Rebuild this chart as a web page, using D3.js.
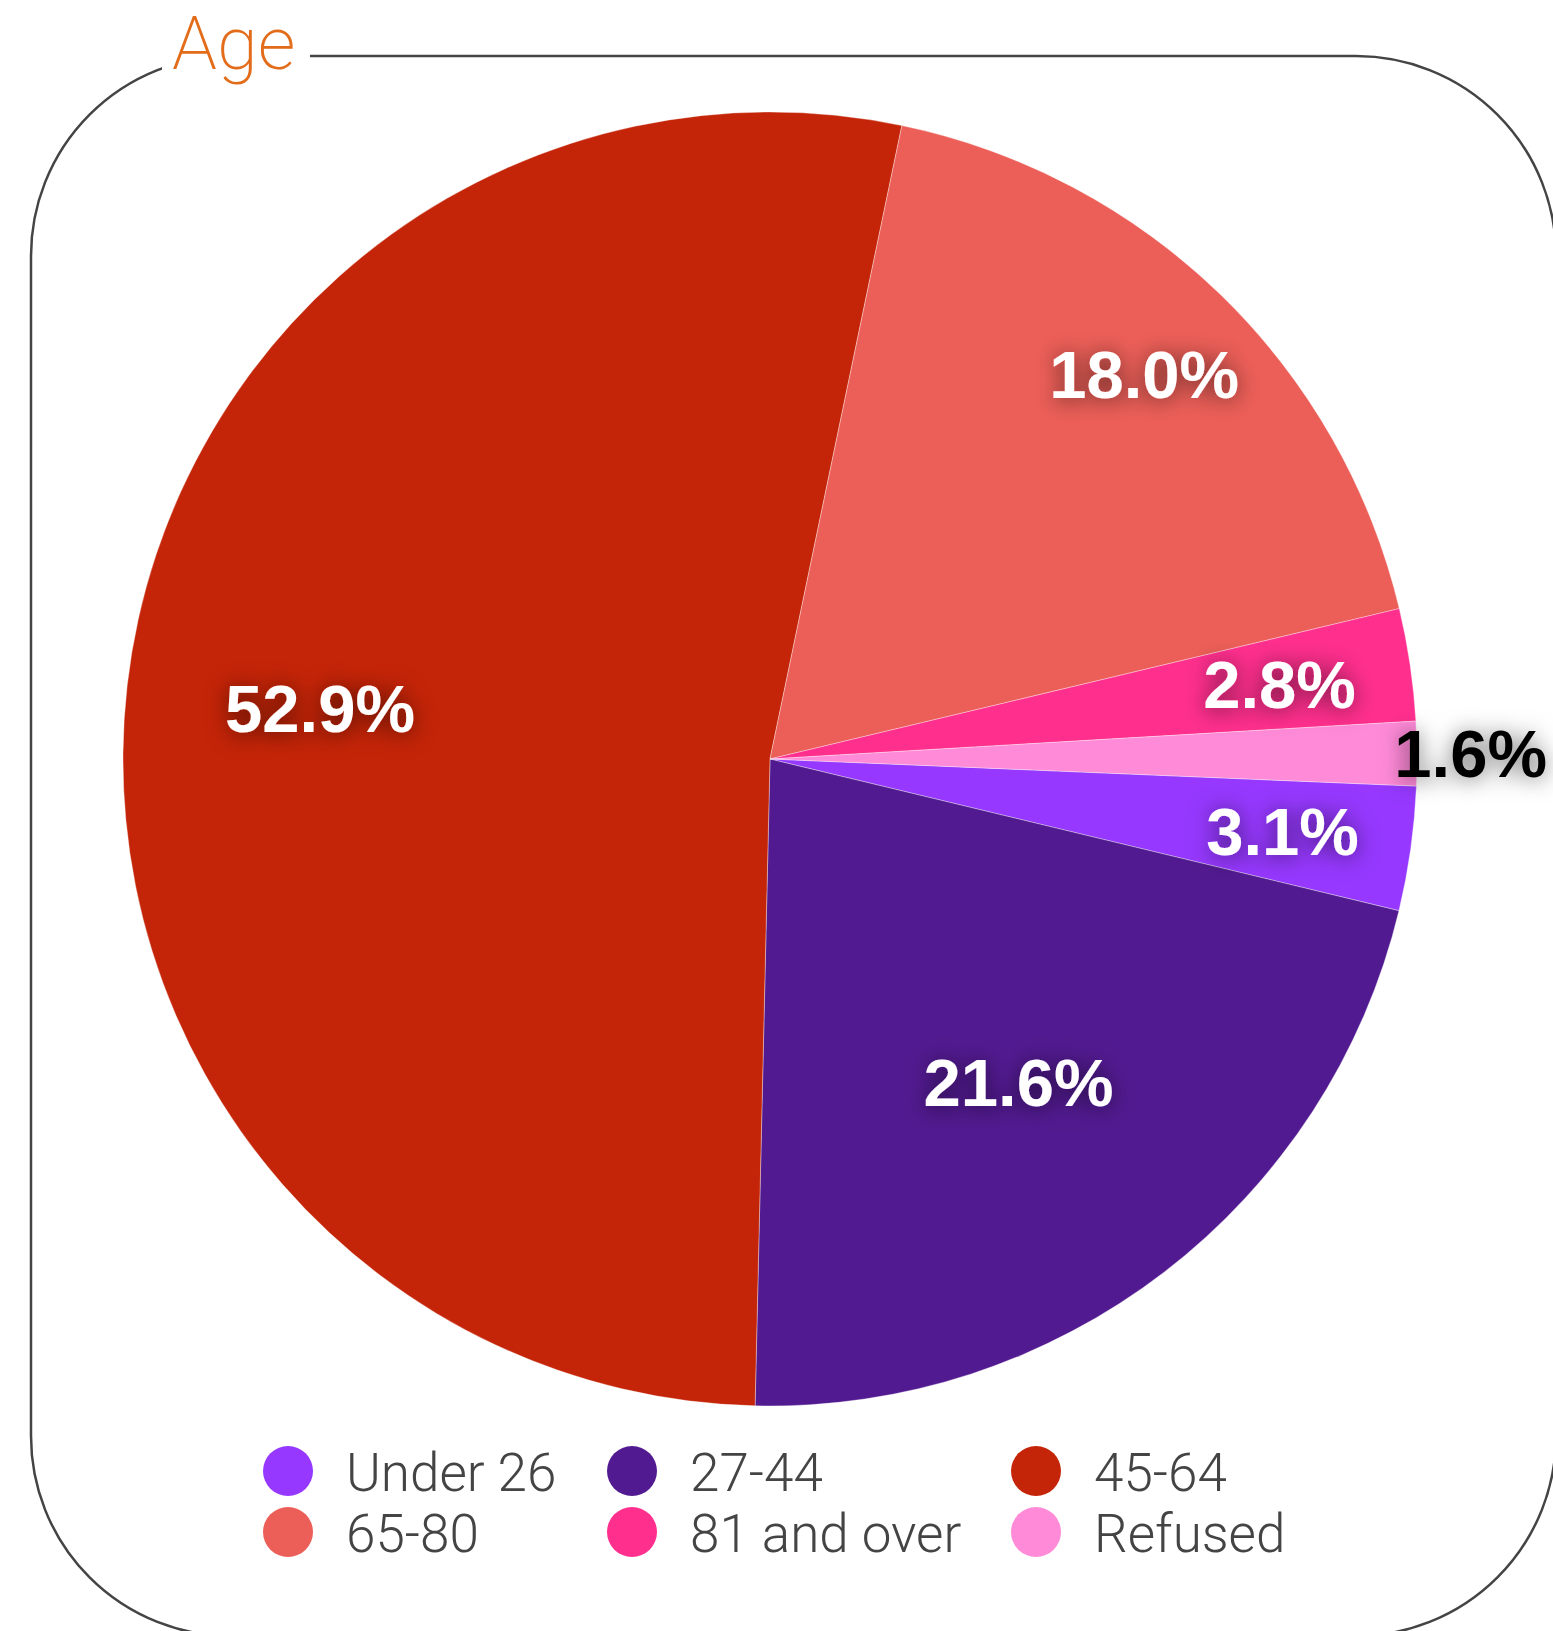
<!DOCTYPE html>
<html>
<head>
<meta charset="utf-8">
<script src="https://cdn.jsdelivr.net/npm/d3@7"></script>
<style>
  html, body { margin: 0; padding: 0; background: #fff; overflow: hidden; }
</style>
</head>
<body>
<div id="chart"></div>
<script>
// data
var categories = ["Under 26", "27-44", "45-64", "65-80", "81 and over", "Refused"];
var values = [3.1, 21.6, 52.9, 18.0, 2.8, 1.6];
var colors = ["#9638FF", "#521A90", "#C42407", "#EC5F58", "#FF2F8E", "#FF8AD8"];
var labelText = ["3.1%", "21.6%", "52.9%", "18.0%", "2.8%", "1.6%"];

// where each label sits, as a fraction of the radius
var labelR = [0.80, 0.63, 0.70, 0.83, 0.796, 1.083];

var width = 1553,
    height = 1631;

var svg = d3.select("#chart")
  .append("svg")
    .attr("width", width)
    .attr("height", height);

// shadow behind the labels
var defs = svg.append("defs");
var f = defs.append("filter")
    .attr("id", "glow")
    .attr("x", "-30%").attr("y", "-70%")
    .attr("width", "160%").attr("height", "240%");
f.append("feDropShadow")
    .attr("dx", 0).attr("dy", 2)
    .attr("stdDeviation", 11)
    .attr("flood-color", "#000")
    .attr("flood-opacity", 0.6);

// rounded frame
svg.append("rect")
    .attr("x", 31)
    .attr("y", 56)
    .attr("width", 1525)
    .attr("height", 1580)
    .attr("rx", 200)
    .attr("ry", 200)
    .attr("fill", "none")
    .attr("stroke", "#444")
    .attr("stroke-width", 2.5);

// gap for the title
svg.append("rect")
    .attr("x", 162)
    .attr("y", 0)
    .attr("width", 148)
    .attr("height", 90)
    .attr("fill", "#fff");

svg.append("text")
    .attr("x", 172)
    .attr("y", 69)
    .attr("font-family", "Roboto, 'Open Sans', sans-serif")
    .attr("font-weight", 200)
    .attr("font-size", 74)
    .attr("fill", "#E36C1A")
    .text("Age");

// pie
var cx = 770, cy = 759, radius = 647;
var start = 92.4 * Math.PI / 180;

var pie = d3.pie()
    .sort(null)
    .startAngle(start)
    .endAngle(start + 2 * Math.PI)
    .value(function(d) { return d; });

var arc = d3.arc()
    .innerRadius(0)
    .outerRadius(radius);

var arcs = pie(values);

var g = svg.append("g")
    .attr("transform", "translate(" + cx + "," + cy + ")");

g.selectAll("path")
  .data(arcs)
  .enter()
  .append("path")
    .attr("d", arc)
    .attr("fill", function(d, i) { return colors[i]; })
    .attr("stroke", "rgba(255,255,255,0.35)")
    .attr("stroke-width", 1);

// labels
g.selectAll("text.lbl")
  .data(arcs)
  .enter()
  .append("text")
    .attr("class", "lbl")
    .attr("transform", function(d, i) {
      var a = (d.startAngle + d.endAngle) / 2;
      var r = radius * labelR[i];
      return "translate(" + (Math.sin(a) * r) + "," + (-Math.cos(a) * r) + ")";
    })
    .attr("dy", "0.36em")
    .attr("text-anchor", "middle")
    .attr("font-family", "'Liberation Sans', Arial, sans-serif")
    .attr("font-weight", "bold")
    .attr("font-size", 67)
    .attr("fill", function(d, i) { return labelR[i] > 1 ? "#000" : "#fff"; })
    .attr("filter", "url(#glow)")
    .text(function(d, i) { return labelText[i]; });

// legend
var legX = [288, 632, 1036],
    legY = [1471, 1532];

var leg = svg.append("g")
  .selectAll("g")
  .data(categories)
  .enter()
  .append("g")
    .attr("transform", function(d, i) {
      return "translate(" + legX[i % 3] + "," + legY[Math.floor(i / 3)] + ")";
    });

leg.append("circle")
    .attr("r", 25)
    .attr("fill", function(d, i) { return colors[i]; });

leg.append("text")
    .attr("x", 58)
    .attr("y", 20)
    .attr("font-family", "Roboto, 'Open Sans', sans-serif")
    .attr("font-weight", 300)
    .attr("font-size", 53)
    .attr("fill", "#444")
    .text(function(d) { return d; });
</script>
</body>
</html>
